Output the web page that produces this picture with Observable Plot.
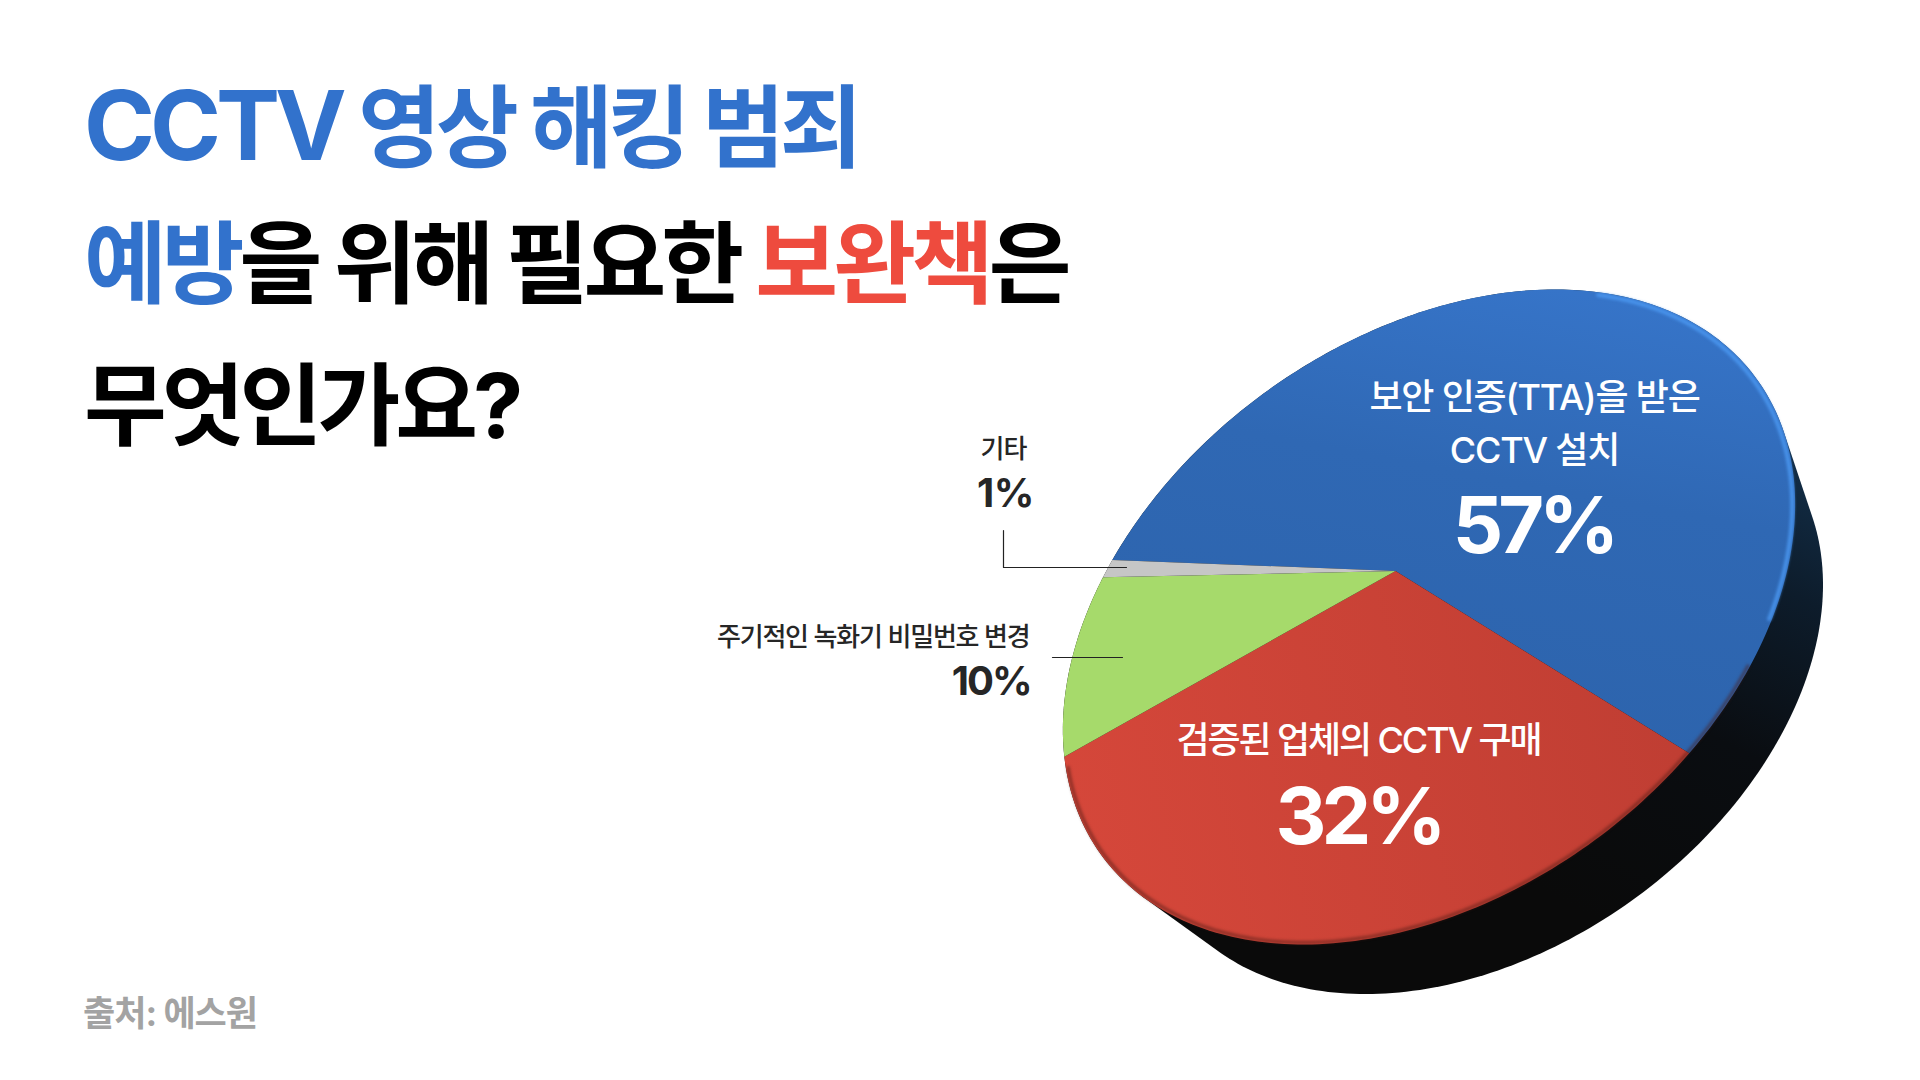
<!DOCTYPE html>
<html lang="ko">
<head>
<meta charset="utf-8">
<script src="https://cdn.jsdelivr.net/npm/d3@7"></script>
<script src="https://cdn.jsdelivr.net/npm/@observablehq/plot@0.6"></script>
<style>
html,body{margin:0;padding:0;background:#fff;width:1920px;height:1080px;overflow:hidden}
body{position:relative;font-family:Inter,"Noto Sans CJK KR","Noto Sans",sans-serif}
.t{position:absolute;left:84px;margin:0;font-size:90px;font-weight:700;letter-spacing:-5px;line-height:1;white-space:nowrap;color:#000}
.b{color:#3272cc}.r{color:#ee4b3e}
.l{letter-spacing:-5px;font-size:96px}
#source{position:absolute;left:83px;top:996px;font-size:35px;font-weight:700;color:#a3a3a3;letter-spacing:-1px;line-height:1}
#chart{position:absolute;left:0;top:0}
[aria-label="rim"]{filter:blur(1.5px)}
[aria-label="edge"]{filter:blur(1.5px)}
[aria-label="inner-top"]{letter-spacing:-1.2px}
[aria-label="inner-red"]{letter-spacing:-2.1px}
[aria-label="inner-bold"]{letter-spacing:-5px}
[aria-label="label-other"]{letter-spacing:-1px}
[aria-label="label-password"]{letter-spacing:-1.2px}
[aria-label="value-other"]{letter-spacing:-0.5px}
[aria-label="value-password"]{letter-spacing:-2px}
</style>
</head>
<body>
<div id="chart"></div>
<h1 class="t" style="top:77px"><span class="b"><span class="l">CCTV</span> 영상 해킹 범죄</span></h1>
<div class="t" style="top:219px"><span class="b">예방</span>을 위해 필요한 <span class="r">보완책</span>은</div>
<div class="t" style="top:361px">무엇인가요?</div>
<div id="source">출처: 에스원</div>
<script>
// data
const categories = ["보안 인증(TTA)을 받은 CCTV 설치", "검증된 업체의 CCTV 구매", "주기적인 녹화기 비밀번호 변경", "기타"];
const shares = [57, 32, 10, 1];
const fills = ["url(#gBlue)", "url(#gRed)", "#a6da6b", "#c6c6c6"];

// perspective disc geometry
const C = {x: 1428.5, y: 616.5}, A = 405, B = 278, TILT = 36 * Math.PI / 180, R = 0.205, START = 130.5;
const BACK = {x: 1482, y: 689, s: 0.93};
const Q = Math.sqrt(1 - R * R);
function project(deg, c = C, s = 1) {
  const al = (START - deg) * Math.PI / 180, t = Math.cos(al), w = Math.sin(al), d = 1 + R * w;
  const wp = (w + R) / d, u = t * Q / d;
  return {
    x: c.x + s * (u * A * Math.cos(TILT) - wp * B * Math.sin(TILT)),
    y: c.y + s * (-u * A * Math.sin(TILT) - wp * B * Math.cos(TILT))
  };
}
const apex = {x: C.x - R * B * Math.sin(TILT), y: C.y - R * B * Math.cos(TILT)};
const pie = d3.pie().sort(null)(shares);
const deg = r => r * 180 / Math.PI;
function arcPts(a0, a1, c, s) {
  const pts = [], n = Math.max(2, Math.ceil(Math.abs(a1 - a0)));
  for (let i = 0; i <= n; i++) pts.push(project(a0 + (a1 - a0) * i / n, c, s));
  return pts;
}
const slices = pie.map(p => [apex, ...arcPts(deg(p.startAngle), deg(p.endAngle)), apex]);
const hull = d3.polygonHull([...arcPts(0, 360), ...arcPts(0, 360, BACK, BACK.s)].map(p => [p.x, p.y]))
  .map(([x, y]) => ({x, y}));
hull.push(hull[0]);

// labels
const innerTop = [
  {x: 1534, y: 409, text: "보안 인증(TTA)을 받은"},
  {x: 1534, y: 462, text: "CCTV 설치"}
];
const innerRed = [{x: 1358, y: 752, text: "검증된 업체의 CCTV 구매"}];
const innerBold = [
  {x: 1533, y: 552, text: "57%"},
  {x: 1358, y: 843, text: "32%"}
];
const labelOther = [{x: 1003, y: 457, text: "기타"}];
const labelPassword = [{x: 1029, y: 645, text: "주기적인 녹화기 비밀번호 변경"}];
const valueOther = [{x: 1005, y: 506, text: "1%"}];
const valuePassword = [{x: 1030, y: 694, text: "10%"}];
const leader1 = [{x: 1003, y: 530}, {x: 1003, y: 567}, {x: 1126, y: 567}];
const leader2 = [{x: 1052, y: 657}, {x: 1122, y: 657}];

const defs = () => {
  const s = d3.create("svg:defs");
  const grad = (id, x1, y1, x2, y2, stops) => {
    const g = s.append("svg:linearGradient").attr("id", id).attr("gradientUnits", "userSpaceOnUse")
      .attr("x1", x1).attr("y1", y1).attr("x2", x2).attr("y2", y2);
    stops.forEach(([o, c]) => g.append("svg:stop").attr("offset", o).attr("stop-color", c));
  };
  grad("gBlue", 1560, 290, 1480, 720, [[0, "#3674c8"], [0.45, "#2f68b4"], [1, "#2d64ad"]]);
  grad("gRed", 1090, 900, 1680, 760, [[0, "#d5473a"], [1, "#c03e33"]]);
  grad("gSide", 1810, 420, 1560, 900, [[0, "#143350"], [0.3, "#0d1c2b"], [0.6, "#0a0d11"], [1, "#0a0a0a"]]);
  return s.node();
};

const FONT = "Inter, 'Noto Sans CJK KR', sans-serif";
const textMark = (data, name, o) => Plot.text(data, {
  x: "x", y: "y", text: "text", lineAnchor: "bottom", fontFamily: FONT, ariaLabel: () => name, ...o
});

const plot = Plot.plot({
  width: 1920, height: 1080, margin: 0,
  x: {domain: [0, 1920], range: [0, 1920], axis: null},
  y: {domain: [0, 1080], range: [0, 1080], axis: null},
  style: {background: "transparent"},
  marks: [
    defs,
    Plot.line(hull, {x: "x", y: "y", fill: "url(#gSide)", stroke: "none"}),
    ...slices.map((s, i) => Plot.line(s, {x: "x", y: "y", fill: fills[i], stroke: "none", title: () => categories[i]})),
    Plot.line(arcPts(105, 185, C, 0.992), {x: "x", y: "y", stroke: "#4a97f0", strokeWidth: 4, strokeOpacity: 0.9, ariaLabel: () => "rim"}),
    Plot.line(arcPts(192, 318, C, 0.994), {x: "x", y: "y", stroke: "#4a1a14", strokeWidth: 3, strokeOpacity: 0.55, ariaLabel: () => "edge"}),
    Plot.line(leader1, {x: "x", y: "y", stroke: "#222", strokeWidth: 1.2}),
    Plot.line(leader2, {x: "x", y: "y", stroke: "#222", strokeWidth: 1.2}),
    textMark(innerTop, "inner-top", {fill: "#fff", fontSize: 36, fontWeight: 500, textAnchor: "middle"}),
    textMark(innerRed, "inner-red", {fill: "#fff", fontSize: 36, fontWeight: 500, textAnchor: "middle"}),
    textMark(innerBold, "inner-bold", {fill: "#fff", fontSize: 79, fontWeight: 700, textAnchor: "middle"}),
    textMark(labelOther, "label-other", {fill: "#262626", fontSize: 26, fontWeight: 500, textAnchor: "middle"}),
    textMark(labelPassword, "label-password", {fill: "#262626", fontSize: 26, fontWeight: 500, textAnchor: "end"}),
    textMark(valueOther, "value-other", {fill: "#262626", fontSize: 40, fontWeight: 700, textAnchor: "middle"}),
    textMark(valuePassword, "value-password", {fill: "#262626", fontSize: 40, fontWeight: 700, textAnchor: "end"})
  ]
});
document.getElementById("chart").append(plot);
</script>
</body>
</html>
